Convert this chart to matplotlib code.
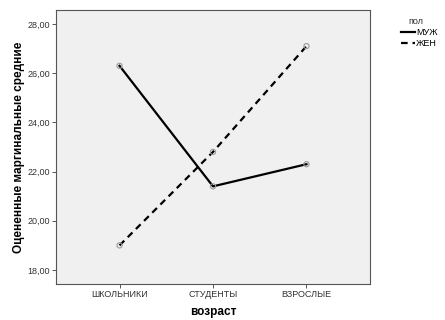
import matplotlib
matplotlib.use("Agg")
import matplotlib.pyplot as plt
from matplotlib.lines import Line2D

categories = ["ШКОЛЬНИКИ", "СТУДЕНТЫ", "ВЗРОСЛЫЕ"]
male = [26.3, 21.4, 22.3]
female = [19.0, 22.8, 27.1]
yticks = [18, 20, 22, 24, 26, 28]

plt.rcParams['font.family'] = ['Liberation Sans', 'DejaVu Sans']

fig = plt.figure(figsize=(4.45, 3.2), dpi=100)
W, H = 445, 320
ax = fig.add_axes([56 / W, 1 - 284 / H, (370 - 56) / W, (284 - 10) / H])
ax.set_facecolor("#f0f0f0")

x = list(range(len(categories)))
ax.plot(x, male, color="black", lw=1.6, ls="-")
ax.plot(x, female, color="black", lw=1.6, ls=(0, (3, 2.2)))
ax.scatter(x, male, s=14, facecolors="none", edgecolors="#9a9a9a", linewidths=0.8, zorder=3)
ax.scatter(x, female, s=14, facecolors="none", edgecolors="#9a9a9a", linewidths=0.8, zorder=3)

ax.set_xlim(-0.68, 2.68)
ax.set_ylim(17.43, 28.57)
ax.set_xticks(x)
ax.set_xticklabels(categories, fontsize=6.5)
ax.set_yticks(yticks)
ax.set_yticklabels([f"{v:.2f}".replace(".", ",") for v in yticks], fontsize=6.5)
ax.tick_params(axis="both", length=3, width=0.7, color="#555555", labelcolor="#333333", pad=1.5)
for s in ax.spines.values():
    s.set_color("#555555")
    s.set_linewidth(0.8)

ax.set_xlabel("возраст", fontsize=8.5, fontweight="bold", labelpad=5)
ax.set_ylabel("Оцененные маргинальные средние", fontsize=8.5, fontweight="bold", labelpad=1.5)

fig.text(416 / W, 1 - 22 / H, "пол", fontsize=6.5, ha="center", va="center", color="#333333")
handles = [Line2D([0], [0], color="black", lw=1.6, ls="-"),
           Line2D([0], [0], color="black", lw=1.6, ls=(0, (3, 2.2)))]
leg = fig.legend(handles, ["МУЖ", "ЖЕН"], loc="upper left", bbox_to_anchor=(401 / W, 1 - 28 / H),
                 frameon=False, fontsize=6.5, handlelength=1.6, handletextpad=0.1,
                 labelspacing=0.2, borderpad=0, borderaxespad=0)

fig.savefig("out.png", dpi=100, facecolor="white")
